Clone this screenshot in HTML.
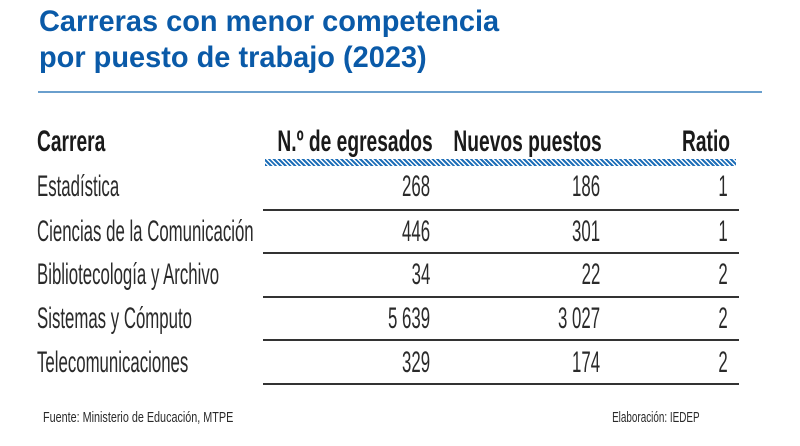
<!DOCTYPE html>
<html><head><meta charset="utf-8"><style>
body{margin:0;width:800px;height:446px;background:#fff;position:relative;overflow:hidden;color:#2a2a2a}
.t{position:absolute;white-space:nowrap;line-height:30px;font-size:30px;font-family:"Liberation Sans",sans-serif}
.l{transform-origin:left top}
.r{transform-origin:right top;text-align:right}
.b{font-weight:bold;color:#1a1a1a}
.s{transform:scaleX(.56)}
.sb{transform:scaleX(.64)}
.sep{position:absolute;left:263px;width:476px;height:2px;background:#333}
</style></head><body>
<div class="t l" style="left:39px;top:7px;font-weight:bold;color:#0a5aa8;transform:scaleX(.965)">Carreras con menor competencia</div>
<div class="t l" style="left:39px;top:43px;font-weight:bold;color:#0a5aa8;transform:scaleX(.965)">por puesto de trabajo (2023)</div>
<div style="position:absolute;left:38px;top:91px;width:724px;height:2px;background:#6a9fcd"></div>

<div class="t l b sb" style="left:37px;top:127px">Carrera</div>
<div class="t r b sb" style="right:367px;top:127px">N.º de egresados</div>
<div class="t r b sb" style="right:198px;top:127px">Nuevos puestos</div>
<div class="t r b sb" style="right:70px;top:127px">Ratio</div>
<div style="position:absolute;left:265px;top:159px;width:471px;height:7px;background:repeating-linear-gradient(45deg,#1f6fb8 0 2px,#fff 2px 3.4px)"></div>

<div class="t l s" style="left:37px;top:172px">Estadística</div>
<div class="t r s" style="right:370px;top:172px">268</div>
<div class="t r s" style="right:200px;top:172px">186</div>
<div class="t r s" style="right:72px;top:172px">1</div>
<div class="sep" style="top:209px"></div>

<div class="t l s" style="left:37px;top:217px">Ciencias de la Comunicación</div>
<div class="t r s" style="right:370px;top:217px">446</div>
<div class="t r s" style="right:200px;top:217px">301</div>
<div class="t r s" style="right:72px;top:217px">1</div>
<div class="sep" style="top:252px"></div>

<div class="t l s" style="left:37px;top:260px">Bibliotecología y Archivo</div>
<div class="t r s" style="right:370px;top:260px">34</div>
<div class="t r s" style="right:200px;top:260px">22</div>
<div class="t r s" style="right:72px;top:260px">2</div>
<div class="sep" style="top:296px"></div>

<div class="t l s" style="left:37px;top:304px">Sistemas y Cómputo</div>
<div class="t r s" style="right:370px;top:304px">5 639</div>
<div class="t r s" style="right:200px;top:304px">3 027</div>
<div class="t r s" style="right:72px;top:304px">2</div>
<div class="sep" style="top:339px"></div>

<div class="t l s" style="left:37px;top:348px">Telecomunicaciones</div>
<div class="t r s" style="right:370px;top:348px">329</div>
<div class="t r s" style="right:200px;top:348px">174</div>
<div class="t r s" style="right:72px;top:348px">2</div>
<div class="sep" style="top:383px"></div>

<div class="t l" style="left:43px;top:410px;font-size:15px;line-height:15px;transform:scaleX(.72)">Fuente: Ministerio de Educación, MTPE</div>
<div class="t r" style="right:100px;top:410px;font-size:15px;line-height:15px;transform:scaleX(.66)">Elaboración: IEDEP</div>
</body></html>
